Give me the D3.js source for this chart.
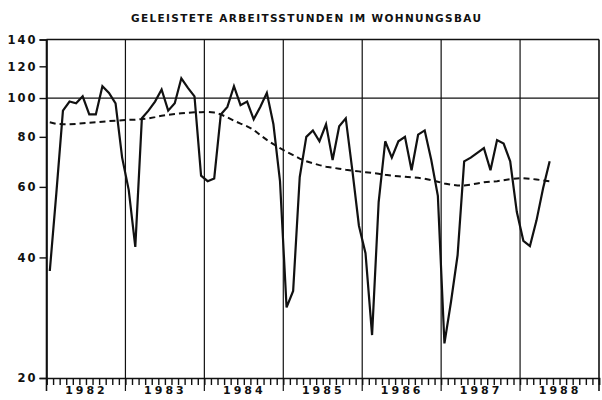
<!DOCTYPE html>
<html><head><meta charset="utf-8">
<script src="https://cdn.jsdelivr.net/npm/d3@7/dist/d3.min.js"></script>
<style>
body{margin:0;background:#fff;}
text{font-family:"DejaVu Sans",sans-serif;font-weight:bold;fill:#111;}
</style></head><body>
<svg id="c" width="602" height="400"></svg>
<script>
const title = "GELEISTETE ARBEITSSTUNDEN IM WOHNUNGSBAU";
const years = ["1982","1983","1984","1985","1986","1987","1988"];
const yTicks = [20,40,60,80,100,120,140];
// monthly values, Jan 1982 - May 1988
const values = [
  37, 58, 93, 98, 97, 101, 91, 91, 107, 103, 97, 71,
  59, 42.5, 89, 93, 98, 105, 93, 97, 112, 106, 101, 64,
  62, 63, 91, 95, 107, 96, 98, 88.5, 95, 103, 86, 62,
  30, 33, 63.5, 80, 83, 78, 86, 70, 85, 89, 66, 48,
  41, 25.6, 55, 78, 71, 78, 80, 66, 81, 83, 70, 57,
  24.4, 31, 40.5, 69.5, 71, 73, 75, 66, 78.5, 77, 69.5, 52,
  44, 42.7, 49.5, 59.5, 69.5
];
const trend = [
  87.0, 86.2, 86.0, 86.0, 86.2, 86.5, 86.8, 87.0, 87.3, 87.6, 87.8, 88.0,
  88.2, 88.3, 88.6, 89.0, 89.6, 90.3, 90.8, 91.2, 91.6, 91.9, 92.1, 92.2,
  92.3, 92.0, 91.0, 89.5, 87.8, 86.3, 85.0, 83.3, 80.8, 78.6, 76.7, 75.0,
  73.4, 72.0, 70.6, 69.5, 68.7, 68.0, 67.4, 67.0, 66.6, 66.2, 65.9, 65.6,
  65.3, 65.0, 64.7, 64.3, 64.0, 63.8, 63.6, 63.4, 63.2, 62.9, 62.4, 61.8,
  61.2, 60.8, 60.5, 60.5, 60.8, 61.2, 61.6, 61.8, 62.0, 62.3, 62.7, 63.0,
  63.1, 62.9, 62.6, 62.3, 62.0
];

const svg = d3.select("#c");
const L = 46.5, R = 599, T = 39.5, B = 378;
const x = d3.scaleLinear().domain([0, years.length*12]).range([L, R]);
const y = d3.scaleLog().domain([20,140]).range([B, T]);

// title
svg.append("text").attr("x", 131).attr("y", 22).attr("font-size", 10.5)
  .attr("textLength", 350).attr("lengthAdjust","spacing").text(title);

// frame + grid
const g = svg.append("g");
g.append("line").attr("x1",L).attr("x2",R).attr("y1",y(140)).attr("y2",y(140)).attr("stroke","#111").attr("stroke-width",1.4);
g.append("line").attr("x1",L).attr("x2",R).attr("y1",y(100)).attr("y2",y(100)).attr("stroke","#111").attr("stroke-width",1.2);
d3.range(years.length+1).forEach(k=>{
  g.append("line").attr("x1",x(k*12)).attr("x2",x(k*12)).attr("y1",T).attr("y2",B+13)
   .attr("stroke","#111").attr("stroke-width",k===0||k===years.length?1.6:1.2);
});

// x axis with monthly ticks
const xAxis = d3.axisBottom(x).tickValues(d3.range(0, years.length*12+1)).tickSize(7).tickFormat("");
const xa = svg.append("g").attr("transform",`translate(0,${B})`).call(xAxis);
xa.select(".domain").attr("stroke","#111").attr("stroke-width",1.6);
xa.selectAll(".tick line").attr("stroke","#111").attr("stroke-width",1.4);
// year labels
const yl = d3.axisBottom(x).tickValues(years.map((d,i)=>i*12+6)).tickSize(0).tickPadding(0).tickFormat((d,i)=>years[i]);
const ya2 = svg.append("g").attr("transform",`translate(0,${B})`).call(yl);
ya2.select(".domain").remove();
ya2.selectAll("text").attr("font-size",11).attr("letter-spacing","3px").attr("y",8).attr("dy","0.71em")
  .style("font-family","DejaVu Sans").style("font-weight","bold").attr("fill","#111");

// y axis
const yAxis = d3.axisLeft(y).tickValues(yTicks).tickSize(7).tickFormat(d3.format("d"));
const ya = svg.append("g").attr("transform",`translate(${L},0)`).call(yAxis);
ya.select(".domain").attr("stroke","#111").attr("stroke-width",1.6);
ya.selectAll(".tick line").attr("stroke","#111").attr("stroke-width",1.4);
ya.selectAll("text").attr("font-size",11.5).attr("letter-spacing","2px").attr("x",-9)
  .style("font-family","DejaVu Sans").style("font-weight","bold").attr("fill","#111");

// lines
const line = d3.line().x((d,i)=>x(i+0.5)).y(d=>y(d));
svg.append("path").datum(trend).attr("d", line).attr("fill","none")
  .attr("stroke","#111").attr("stroke-width",2).attr("stroke-dasharray","6,4");
svg.append("path").datum(values).attr("d", line).attr("fill","none")
  .attr("stroke","#111").attr("stroke-width",2.2).attr("stroke-linejoin","miter");
</script></body></html>
